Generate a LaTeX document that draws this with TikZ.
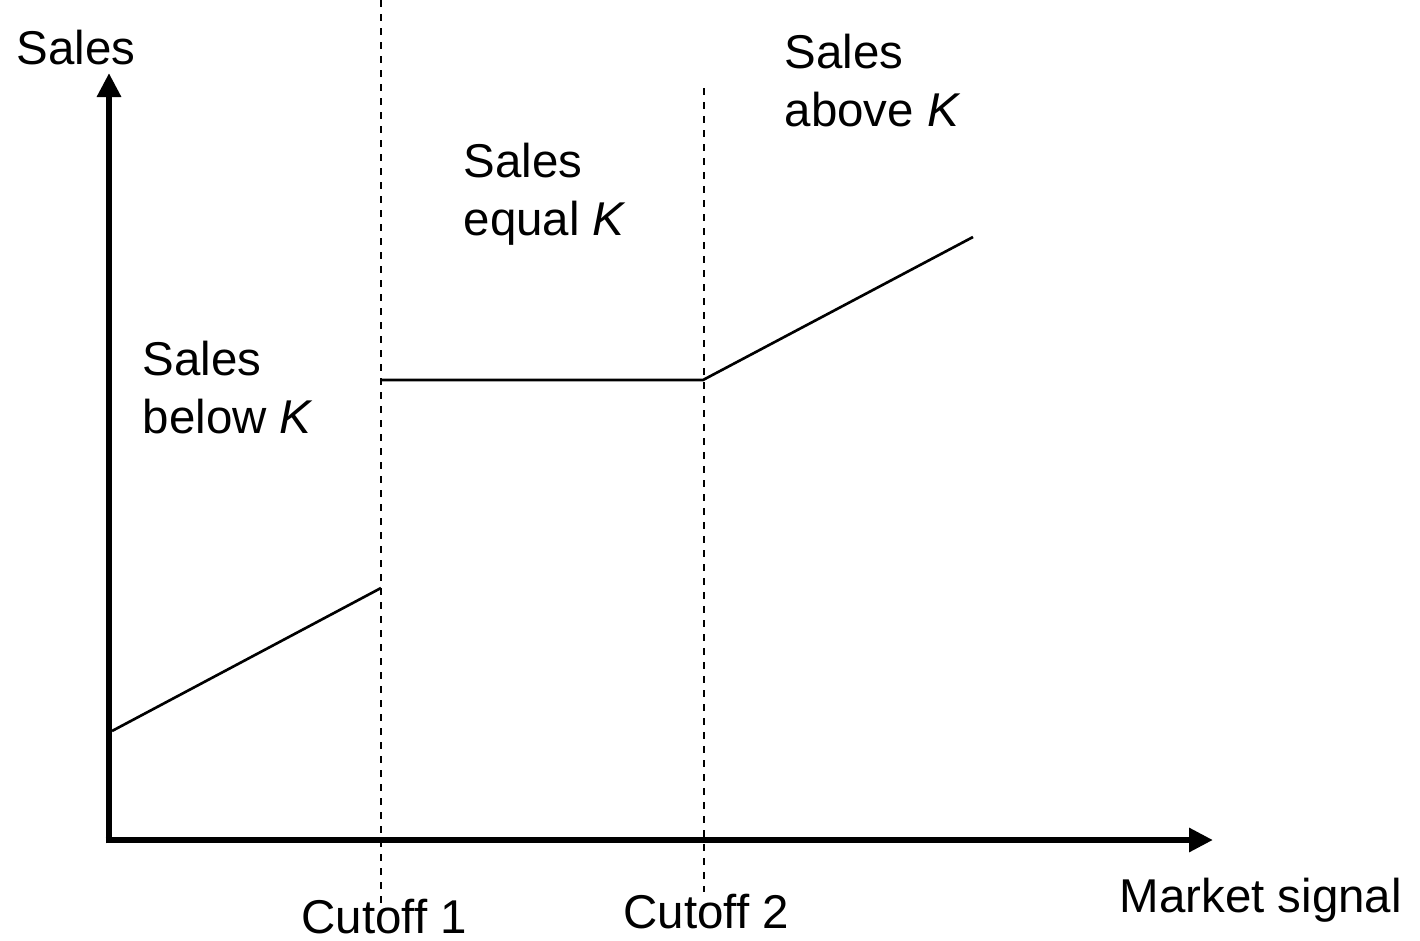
\documentclass[tikz,border=0pt]{standalone}
\usepackage{fontspec}
\setmainfont{Liberation Sans}
\usetikzlibrary{arrows.meta}
\tikzset{
    axisline/.style={line width=1.9pt,-{Triangle[length=0.24cm,width=0.23cm]}},
    cutline/.style={line width=0.7pt,dash pattern=on 0.07cm off 0.07cm},
    salesline/.style={line width=0.75pt},
    lbl/.style={inner sep=0pt,font=\fontsize{13.5}{16.5}\selectfont,align=left},
}
\begin{document}
\begin{tikzpicture}
    \useasboundingbox (0,0) rectangle (14.2,9.4);
    % axes
    \coordinate (O) at (1.09,1.00);
    \coordinate (ybot) at (1.09,0.967);
    \coordinate (xleft) at (1.057,1.00);
    \coordinate (ytip) at (1.09,8.67);
    \coordinate (xtip) at (12.13,1.00);
    \draw[axisline] (ybot) -- (ytip);
    \draw[axisline] (xleft) -- (xtip);
    % cutoffs
    \coordinate (cut1top) at (3.81,9.40);
    \coordinate (cut1bot) at (3.81,0.35);
    \coordinate (cut2top) at (7.04,8.52);
    \coordinate (cut2bot) at (7.04,0.48);
    \draw[cutline] (cut1top) -- (cut1bot);
    \draw[cutline] (cut2top) -- (cut2bot);
    % sales
    \coordinate (s0) at (1.12,2.09);
    \coordinate (s1) at (3.81,3.52);
    \coordinate (s2) at (3.81,5.60);
    \coordinate (s3) at (7.03,5.60);
    \coordinate (s4) at (9.73,7.03);
    \draw[salesline] (s0) -- (s1);
    \draw[salesline] (s2) -- (s3) -- (s4);
    % labels
    \node[lbl,anchor=base west] (ylabel) at (0.16,8.76) {Sales};
    \node[lbl,anchor=base west] (xlabel) at (11.19,0.28) {Market signal};
    \node[lbl,anchor=base west] (cut1) at (3.01,0.07) {Cutoff 1};
    \node[lbl,anchor=base west] (cut2) at (6.23,0.12) {Cutoff 2};
    \node[lbl,anchor=north west] (below) at (1.42,5.995) {Sales\\below \textit{K}};
    \node[lbl,anchor=north west] (equal) at (4.63,7.975) {Sales\\equal \textit{K}};
    \node[lbl,anchor=north west] (above) at (7.84,9.065) {Sales\\above \textit{K}};
\end{tikzpicture}
\end{document}
